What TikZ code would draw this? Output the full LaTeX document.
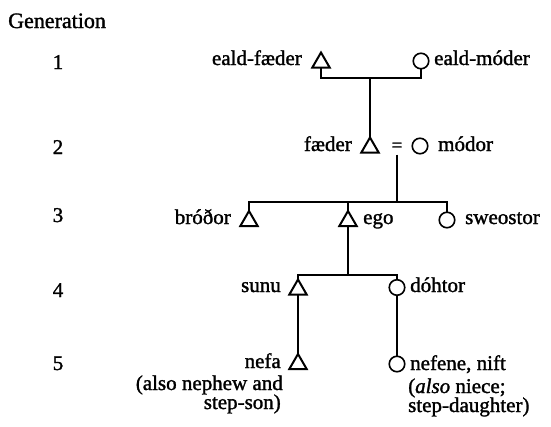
\documentclass[tikz,border=0pt]{standalone}
\usepackage{fontspec}
\setmainfont{Liberation Serif}[FakeBold=1.4]
\usetikzlibrary{shapes.geometric}
\begin{document}
\begin{tikzpicture}[x=1pt,y=-1pt,
  male/.style={regular polygon, regular polygon sides=3, draw, line width=2pt,
    minimum size=20pt, inner sep=0pt, outer sep=0pt},
  female/.style={circle, draw, line width=1.6pt, minimum size=15.5pt,
    inner sep=0pt, outer sep=0pt},
  tie/.style={line width=1.8pt},
  lbl/.style={inner sep=0pt, font=\fontsize{21}{24}\selectfont},
  lleft/.style={lbl, anchor=base east},
  lright/.style={lbl, anchor=base west}]
  % canvas
  \fill[white] (0,0) rectangle (551,426);
  \useasboundingbox (0,0) rectangle (551,426);

  % generation column
  \node[lbl, anchor=base west, font=\fontsize{22}{24}\selectfont] (gen) at (8,28) {Generation};
  \node[lbl, anchor=base] (g1) at (58,69) {1};
  \node[lbl, anchor=base] (g2) at (58,154) {2};
  \node[lbl, anchor=base] (g3) at (58,222) {3};
  \node[lbl, anchor=base] (g4) at (58,297) {4};
  \node[lbl, anchor=base] (g5) at (58,370) {5};

  % generation 1
  \node[male]   (ef) at (321,62.5) {};
  \node[female] (em) at (421,61) {};
  \node[lleft]  (tef) at (302,65) {eald-fæder};
  \node[lright] (tem) at (434,65) {eald-móder};

  % generation 2
  \node[male]   (fa) at (370,147.5) {};
  \node[lbl, font=\fontsize{19}{20}\selectfont] (eq) at (397,147) {=};
  \node[female] (mo) at (420,146) {};
  \node[lleft]  (tfa) at (352,151) {fæder};
  \node[lright] (tmo) at (438,151) {módor};

  % generation 3
  \node[male]   (br) at (249,221) {};
  \node[male]   (eg) at (348,221) {};
  \node[female] (sw) at (447,220) {};
  \node[lleft]  (tbr) at (231,224) {bróðor};
  \node[lright] (teg) at (363,224) {ego};
  \node[lright] (tsw) at (465,224) {sweostor};

  % generation 4
  \node[male]   (su) at (298,289.5) {};
  \node[female] (do) at (397,287.5) {};
  \node[lleft]  (tsu) at (281,292) {sunu};
  \node[lright] (tdo) at (410,292) {dóhtor};

  % generation 5
  \node[male]   (ne) at (298,364) {};
  \node[female] (nf) at (397,364) {};
  \node[lleft]  (tne) at (281,368) {nefa};
  \node[lright] (tnf) at (410,370) {nefene, nift};
  \node[lleft]  (nA) at (283,390) {(also nephew and};
  \node[lleft]  (nB) at (281,409) {step-son)};
  \node[lright] (fA) at (408,393) {(\textit{also} niece;};
  \node[lright] (fB) at (408,412) {step-daughter)};

  % junctions
  \coordinate (j1) at (370,78);
  \coordinate (j2) at (397,202);
  \coordinate (j2e) at (348,202);
  \coordinate (j3) at (348,275);

  % lines of descent
  \draw[tie] (ef.south) |- (j1) -| (em.south);
  \draw[tie] (j1) -- (fa.north);
  \draw[tie] ([yshift=-3pt]eq.south) -- (j2);
  \draw[tie] (br.north) |- (j2) -| (sw.north);
  \draw[tie] (j2e) -- (eg.north);
  \draw[tie] (eg.south) -- (j3);
  \draw[tie] (su.north) |- (j3) -| (do.north);
  \draw[tie] (su.south) -- (ne.north);
  \draw[tie] (do.south) -- (nf.north);
\end{tikzpicture}
\end{document}
